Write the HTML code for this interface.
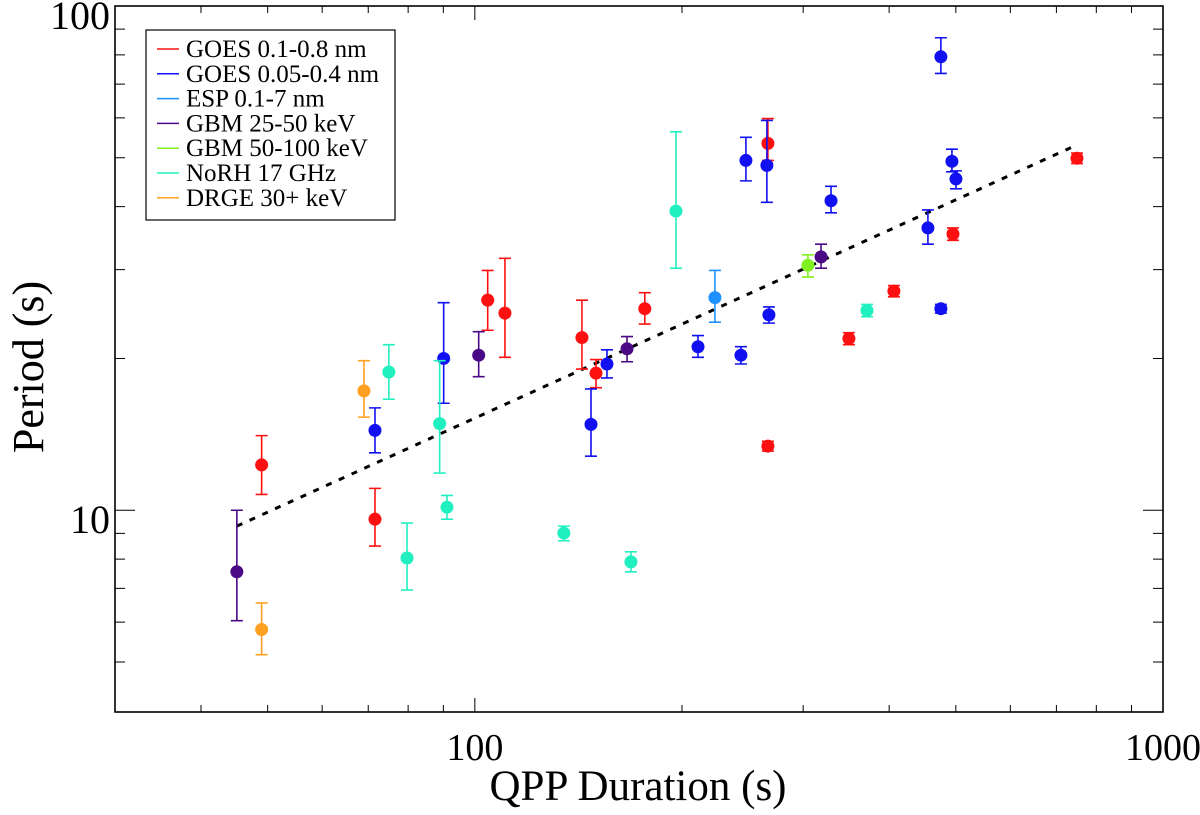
<!DOCTYPE html>
<html><head><meta charset="utf-8"><style>
html,body{margin:0;padding:0;background:#fff;}
svg{display:block;font-family:"Liberation Serif",serif;}
</style></head><body>
<svg id="chart" width="1200" height="815" viewBox="0 0 1200 815" xmlns="http://www.w3.org/2000/svg">
<g id="marks"></g>
<g id="axes"></g>
<g id="legend"></g>
</svg>
<script>
const seriesNames = ["GOES 0.1-0.8 nm","GOES 0.05-0.4 nm","ESP 0.1-7 nm","GBM 25-50 keV","GBM 50-100 keV","NoRH 17 GHz","DRGE 30+ keV"];
const seriesColors = ["#ff1010","#1010f0","#1e90ff","#4b0a85","#80f020","#20f0c0","#ffa020"];
// [duration, period, errTop, errBottom]
const goesLong = [[49.0,12.3,14.06,10.75],[71.6,9.60,11.05,8.49],[104.4,26.1,29.9,22.75],[110.6,24.6,31.6,20.1],[143.1,22.0,26.1,19.05],[150.0,18.7,19.9,17.5],[176.6,25.1,27.0,23.4],[266.6,53.4,59.8,49.4],[266.6,13.4,13.7,13.1],[349.6,21.9,22.5,21.3],[406.4,27.2,27.9,26.5],[495.2,35.3,36.3,34.3],[749.9,49.9,51.1,48.7]];
const goesShort = [[71.6,14.4,15.96,13.0],[90.1,20.0,25.8,16.3],[147.5,14.8,17.4,12.8],[155.6,19.5,20.8,18.3],[211.0,21.1,22.2,20.1],[243.6,20.3,21.1,19.5],[247.7,49.4,54.9,45.0],[265.7,48.3,59.3,40.8],[267.5,24.4,25.3,23.5],[329.3,41.1,43.9,38.9],[455.4,36.3,39.4,33.7],[475.6,79.3,86.5,73.5],[475.6,25.1,25.6,24.6],[493.5,49.2,52.0,46.9],[500.2,45.4,47.1,43.4]];
const esp = [[223.3,26.4,29.9,23.6]];
const gbmLow = [[45.1,7.55,10.0,6.04],[101.3,20.3,22.6,18.4],[166.4,20.9,22.1,19.7],[318.5,31.8,33.7,30.2]];
const gbmHigh = [[304.8,30.6,32.1,29.0]];
const norh = [[75.0,18.8,21.3,16.6],[79.7,8.04,9.43,6.95],[88.9,14.85,19.8,11.85],[91.1,10.14,10.7,9.6],[134.7,9.01,9.3,8.7],[168.6,7.9,8.27,7.55],[196.0,39.2,56.3,30.2],[371.4,24.9,25.6,24.2]];
const drge = [[49.0,5.80,6.55,5.17],[69.0,17.25,19.8,15.3]];
const fitX = [45.1,737.6];
const fitY = [9.30,52.5];
const xTickMajor = [100,1000];
const xTickMinor = [40,50,60,70,80,90,200,300,400,500,600,700,800,900];
const yTickMajor = [10,100];
const yTickMinor = [5,6,7,8,9,20,30,40,50,60,70,80,90];

const L=115,R=1163,T=6,B=712;
const xMin=30,xMax=1000,yMin=3.98,yMax=100;
const X=v=>L+(Math.log10(v)-Math.log10(xMin))/(Math.log10(xMax)-Math.log10(xMin))*(R-L);
const Y=v=>B-(Math.log10(v)-Math.log10(yMin))/(Math.log10(yMax)-Math.log10(yMin))*(B-T);
const NS="http://www.w3.org/2000/svg";
function mk(tag,attrs,parent){const e=document.createElementNS(NS,tag);for(const k in attrs)e.setAttribute(k,attrs[k]);parent.appendChild(e);return e;}
const marks=document.getElementById('marks'),axes=document.getElementById('axes'),legend=document.getElementById('legend');

const fit=mk('line',{x1:X(fitX[0]),y1:Y(fitY[0]),x2:X(fitX[1]),y2:Y(fitY[1]),stroke:'#000','stroke-width':3,'stroke-dasharray':'6 8'},marks);



const allSeries=[goesLong,goesShort,esp,gbmLow,gbmHigh,norh,drge];
allSeries.forEach((s,si)=>{
  const g=mk('g',{},marks);
  
  
  s.forEach(p=>{
    const cx=X(p[0]),cy=Y(p[1]),yt=Y(p[2]),yb=Y(p[3]),c=seriesColors[si];
    const eb=mk('path',{d:`M${cx},${yt}V${yb}M${cx-6},${yt}H${cx+6}M${cx-6},${yb}H${cx+6}`,stroke:c,'stroke-width':1.6,fill:'none'},g);
    
    
    const pt=mk('circle',{cx:cx,cy:cy,r:6.5,fill:c},g);
    
    
  });
});

const fr=mk('rect',{x:L,y:T,width:R-L,height:B-T,fill:'none',stroke:'#000','stroke-width':1.6},axes);


function xt(v,len){const x=X(v);const t=mk('path',{d:`M${x},${B}v${-len}M${x},${T}v${len}`,stroke:'#000','stroke-width':1},axes);}
function yt(v,len){const y=Y(v);const t=mk('path',{d:`M${L},${y}h${len}M${R},${y}h${-len}`,stroke:'#000','stroke-width':1},axes);}
xTickMajor.forEach(v=>xt(v,14));xTickMinor.forEach(v=>xt(v,7));
yTickMajor.forEach(v=>yt(v,20));yTickMinor.forEach(v=>yt(v,10));
xTickMajor.forEach(v=>{
  const edge=X(v)+36>1200;
  const t=mk('text',{x:edge?1199:X(v),y:760,'font-size':38,'text-anchor':edge?'end':'middle'},axes);
  t.textContent=String(v);
  
  
});
yTickMajor.forEach(v=>{const t=mk('text',{x:110,y:Y(v)+23,'font-size':40,'text-anchor':'end'},axes);t.textContent=String(v);});
const xl=mk('text',{x:638,y:800,'font-size':43,'text-anchor':'middle'},axes);xl.textContent='QPP Duration (s)';


const yl=mk('text',{x:0,y:0,'font-size':44,'text-anchor':'middle',transform:'translate(43,367) rotate(-90)'},axes);yl.textContent='Period (s)';



const lb=mk('rect',{x:146,y:30,width:249,height:190,fill:'#fff',stroke:'#000','stroke-width':1.2},legend);


seriesNames.forEach((n,i)=>{
  const y=49+i*24.8;
  const g=mk('g',{},legend);
  
  
  mk('line',{x1:157,x2:179,y1:y,y2:y,stroke:seriesColors[i],'stroke-width':1.5},g);
  const t=mk('text',{x:186,y:y+8,'font-size':25},g);t.textContent=n;
});
</script>
</body></html>
